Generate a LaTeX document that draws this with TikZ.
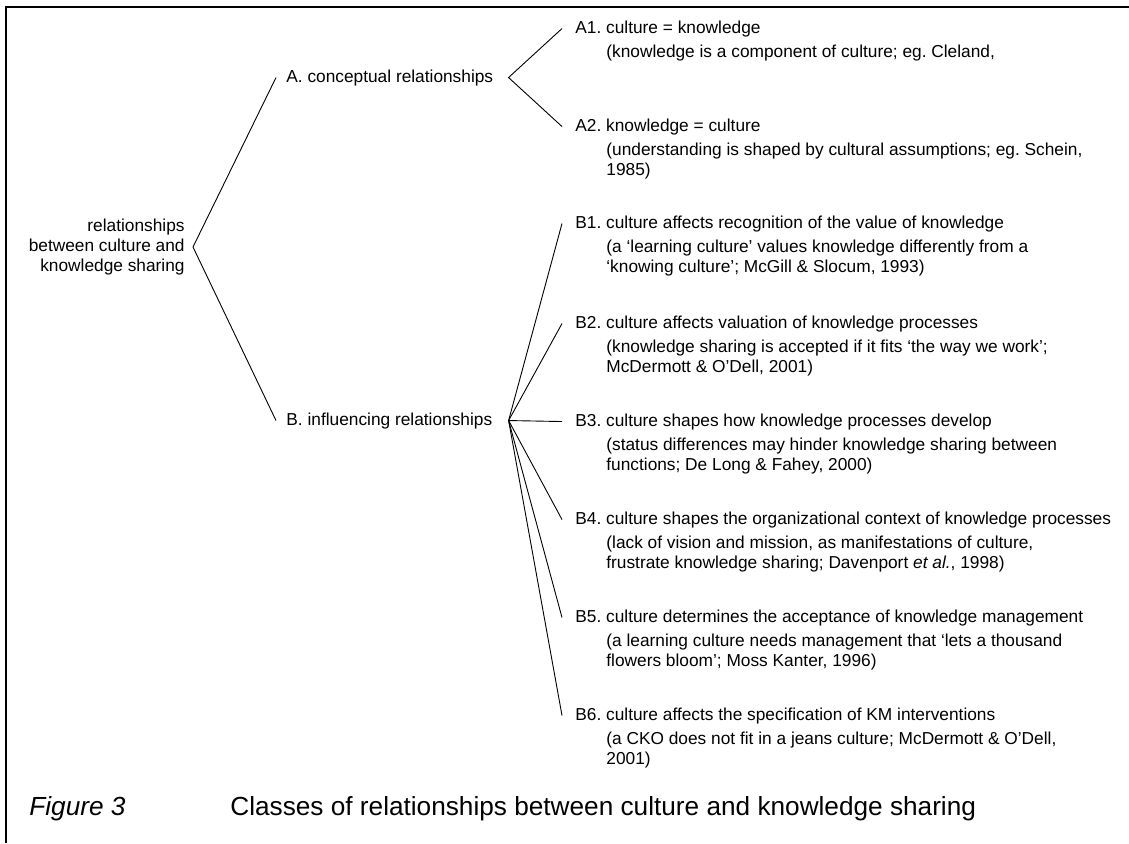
\documentclass[tikz,border=0pt]{standalone}
\usepackage{fontspec}
\setmainfont{Liberation Sans}
\usepackage{tikz}
\usetikzlibrary{positioning}
\frenchspacing

\tikzset{
    head/.style={anchor=base west, inner sep=0pt, font=\fontsize{8.65}{9.8}\selectfont\frenchspacing},
    note/.style={anchor=north west, inner sep=0pt, align=left, font=\fontsize{8.65}{9.8}\selectfont\frenchspacing},
    caption/.style={anchor=base west, inner sep=0pt, font=\fontsize{13.1}{15}\selectfont},
    branch/.style={line width=0.45pt},
}

\begin{document}
\begin{tikzpicture}[x=0.5pt,y=-0.5pt]
                \useasboundingbox (0,0) rectangle (1129,843);
                \draw[line width=1.25pt] (6,843) -- (6,7) -- (1129,7);

                \node (root) at (185,247) [anchor=east, inner sep=0pt, align=right, font=\fontsize{8.65}{9.8}\selectfont] {relationships\\between culture and\\knowledge sharing};
                \node (A) at (286,82) [head] {A. conceptual relationships};
                \node (B) at (286,425) [head] {B. influencing relationships};

                \coordinate[right=4pt of root.east] (rootv);
                \coordinate[right=7.5pt of A.east] (av);
                \coordinate[right=8pt of B.east] (bv);

                \node (A1) at (575,33) [head] {A1. culture = knowledge};
                \node (A1n) [note, below right=6pt and 15.5pt of A1.base west] {(knowledge is a component of culture; eg. Cleland,};
                \node (A2) at (575,131) [head] {A2. knowledge = culture};
                \node (A2n) [note, below right=6pt and 15.5pt of A2.base west] {(understanding is shaped by cultural assumptions; eg. Schein,\\1985)};

                \node (B1) at (575,228) [head] {B1. culture affects recognition of the value of knowledge};
                \node (B1n) [note, below right=6pt and 15.5pt of B1.base west] {(a ‘learning culture’ values knowledge differently from a\\‘knowing culture’; McGill \& Slocum, 1993)};
                \node (B2) at (575,328) [head] {B2. culture affects valuation of knowledge processes};
                \node (B2n) [note, below right=6pt and 15.5pt of B2.base west] {(knowledge sharing is accepted if it fits ‘the way we work’;\\McDermott \& O’Dell, 2001)};
                \node (B3) at (575,426) [head] {B3. culture shapes how knowledge processes develop};
                \node (B3n) [note, below right=6pt and 15.5pt of B3.base west] {(status differences may hinder knowledge sharing between\\functions; De Long \& Fahey, 2000)};
                \node (B4) at (575,524) [head] {B4. culture shapes the organizational context of knowledge processes};
                \node (B4n) [note, below right=6pt and 15.5pt of B4.base west] {(lack of vision and mission, as manifestations of culture,\\frustrate knowledge sharing; Davenport \textit{et al.}, 1998)};
                \node (B5) at (575,622) [head] {B5. culture determines the acceptance of knowledge management};
                \node (B5n) [note, below right=6pt and 15.5pt of B5.base west] {(a learning culture needs management that ‘lets a thousand\\flowers bloom’; Moss Kanter, 1996)};
                \node (B6) at (575,720) [head] {B6. culture affects the specification of KM interventions};
                \node (B6n) [note, below right=6pt and 15.5pt of B6.base west] {(a CKO does not fit in a jeans culture; McDermott \& O’Dell,\\2001)};

                \draw[branch] ([xshift=-5pt]A.west) -- (rootv) -- ([xshift=-5pt]B.west);
                \draw[branch] ([xshift=-6.5pt]A1.west) -- (av) -- ([xshift=-6.5pt]A2.west);
                \draw[branch] (bv) -- ([xshift=-6.5pt]B1.west);
                \draw[branch] (bv) -- ([xshift=-6.5pt]B2.west);
                \draw[branch] (bv) -- ([xshift=-6.5pt]B3.west);
                \draw[branch] (bv) -- ([xshift=-6.5pt]B4.west);
                \draw[branch] (bv) -- ([xshift=-6.5pt]B5.west);
                \draw[branch] (bv) -- ([xshift=-6.5pt]B6.west);

                \node (fig) at (29,815) [caption] {\textit{Figure 3}};
                \node (title) at (230,815) [caption] {Classes of relationships between culture and knowledge sharing};
            \end{tikzpicture}
\end{document}
